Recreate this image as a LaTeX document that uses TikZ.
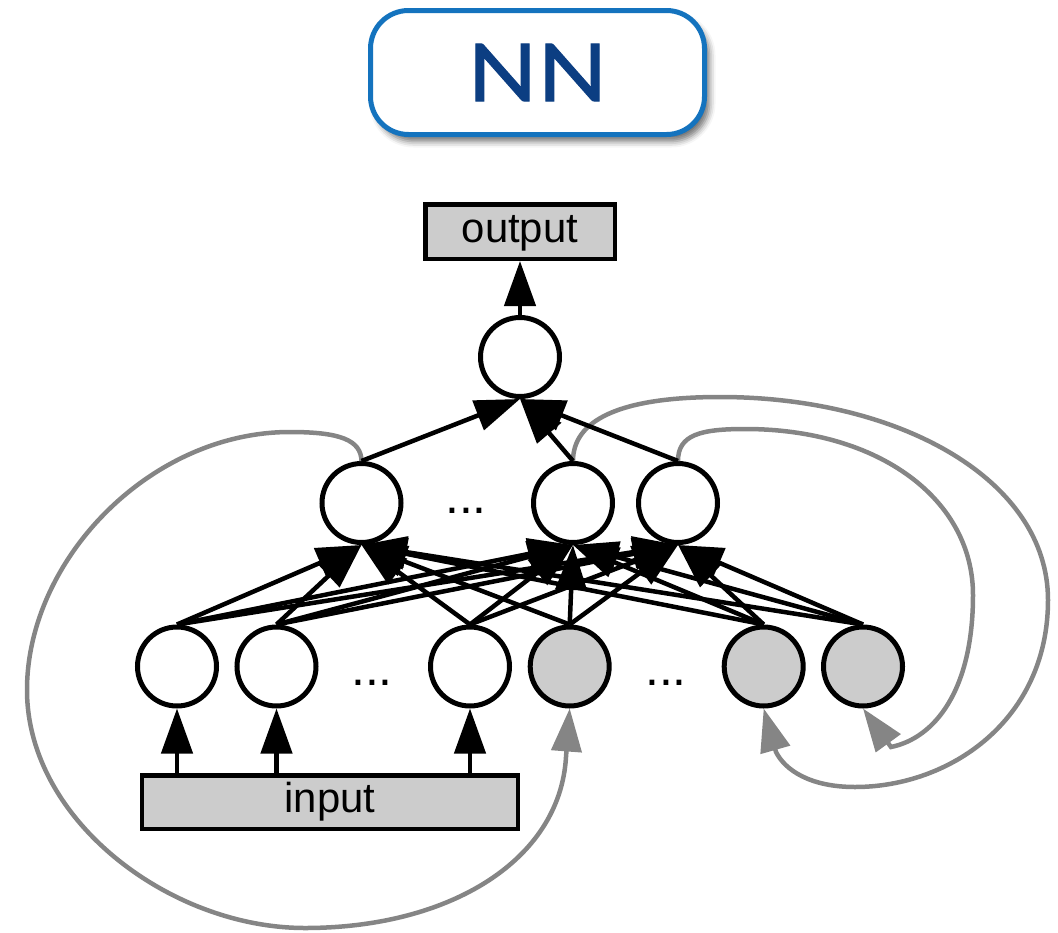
\documentclass[tikz,border=0pt]{standalone}
\usepackage{fontspec}
\setmainfont{Liberation Sans}
\newfontfamily\titlefont[FakeStretch=1.15,FakeBold=1.5]{Lato}
\usetikzlibrary{arrows.meta,shadows.blur}
\definecolor{nnblue}{RGB}{20,115,190}
\definecolor{nntext}{RGB}{12,62,130}
\definecolor{fillgray}{RGB}{204,204,204}
\definecolor{curvegray}{RGB}{133,133,133}
\begin{document}
\begin{tikzpicture}[x=1bp,y=-1bp,
  neuron/.style={circle,draw=black,line width=5bp,minimum size=79bp,inner sep=0pt,fill=white},
  ctxneuron/.style={neuron,fill=fillgray},
  iobox/.style={draw=black,line width=4.5bp,fill=fillgray,inner sep=0pt,
    font=\fontsize{42}{42}\selectfont,text height=30bp,text depth=9bp},
  fwd/.style={line width=4.5bp,-{Triangle[length=45bp,width=31bp]}},
  rec/.style={draw=curvegray,line width=4.5bp,-{Triangle[length=43bp,width=30bp]},curvegray},
  dotsnode/.style={font=\fontsize{50}{50}\selectfont,inner sep=0pt,anchor=base},
  titlebox/.style={draw=nnblue,line width=5bp,fill=white,rounded corners=38bp,
    minimum width=334bp,minimum height=124bp,inner sep=0pt,
    blur shadow={shadow xshift=5bp,shadow yshift=-7bp,shadow blur radius=6bp,shadow opacity=55}},
]
\useasboundingbox (0,0) rectangle (1058,933);

% title
\node[titlebox,text=nntext,font=\titlefont\fontsize{80}{80}\selectfont] (title) at (537.5,72.5) {NN};

% output
\node[iobox,minimum width=189.5bp,minimum height=54.5bp] (out) at (520,231.5) {output};
\node[neuron] (o) at (520,357) {};

% hidden layer
\node[neuron] (h1) at (361.5,503) {};
\node[neuron] (h2) at (573,503) {};
\node[neuron] (h3) at (678,503) {};
\node[dotsnode] (hd) at (466,513) {...};

% input / context layer
\node[neuron] (in1) at (177,666.5) {};
\node[neuron] (in2) at (276.5,666.5) {};
\node[neuron] (in3) at (470,666.5) {};
\node[ctxneuron] (c1) at (569.7,666.5) {};
\node[ctxneuron] (c2) at (763.7,666.5) {};
\node[ctxneuron] (c3) at (863,666.5) {};
\node[dotsnode] (bd1) at (372,685) {...};
\node[dotsnode] (bd2) at (666,685) {...};

% input box
\node[iobox,minimum width=375.5bp,minimum height=53.5bp] (inp) at (330,802) {input};

% recurrent connections
\draw[rec] (h1.north) .. controls (361,440) and (340,432) .. (290,432)
  .. controls (150,432) and (27,560) .. (27,690)
  .. controls (27,820) and (170,928) .. (305,928)
  .. controls (450,928) and (560,860) .. (566,757) -- (c1.south);
\draw[rec] (h2.north) .. controls (573,420) and (620,397) .. (720,397)
  .. controls (900,397) and (1048,480) .. (1048,600)
  .. controls (1048,720) and (950,787) .. (855,787)
  .. controls (810,787) and (785,770) .. (776,752) -- (c2.south);
\draw[rec] (h3.north) .. controls (678,435) and (700,429) .. (745,429)
  .. controls (880,429) and (973,500) .. (973,595)
  .. controls (973,690) and (935,738) .. (891,747) -- (c3.south);

% feed-forward connections
\foreach \b in {in1,in2,in3,c1,c2,c3}
  \foreach \h in {h1,h2,h3}
    \draw[fwd] (\b.north) -- (\h.south);
\foreach \h in {h1,h2,h3}
  \draw[fwd] (\h.north) -- (o.south);
\draw[fwd] (o.north) -- (out.south);
\foreach \b in {in1,in2,in3}
  \draw[fwd] (inp.north -| \b) -- (\b.south);
\end{tikzpicture}
\end{document}
